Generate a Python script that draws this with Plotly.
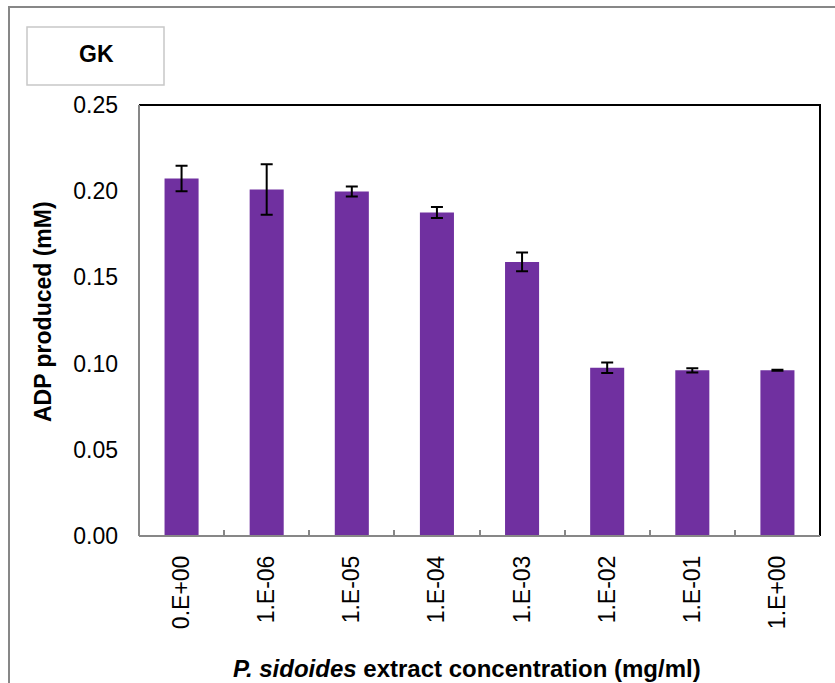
import plotly.graph_objects as go

# Glucokinase (GK) activity: ADP produced at each extract concentration
concentrations = ["0.E+00", "1.E-06", "1.E-05", "1.E-04", "1.E-03", "1.E-02", "1.E-01", "1.E+00"]
adp_mM = [0.2074, 0.2010, 0.1998, 0.1877, 0.1590, 0.0976, 0.0961, 0.0962]
adp_err = [0.0074, 0.0147, 0.0029, 0.0032, 0.0054, 0.0030, 0.0012, 0.0003]
y_ticks = [0.00, 0.05, 0.10, 0.15, 0.20, 0.25]

W, H = 835, 683
L, R, T, B = 139, 820, 105, 536  # plot area edges in pixels


def px_x(p):
    return (p - L) / (R - L)


def px_y(p):
    return (B - p) / (B - T)


FONT = "Liberation Sans, Arial, sans-serif"
GRAY = "#878787"

fig = go.Figure(
    go.Bar(
        x=concentrations,
        y=adp_mM,
        marker=dict(color="#7030A0", line=dict(width=0)),
        error_y=dict(type="data", array=adp_err, visible=True,
                     color="black", thickness=2, width=6),
    )
)

shapes = [
    # outer chart frame
    dict(type="rect", xref="paper", yref="paper",
         x0=px_x(9), x1=px_x(900), y0=px_y(760), y1=px_y(7),
         line=dict(color=GRAY, width=2), layer="below"),
    # label box in the top-left corner
    dict(type="rect", xref="paper", yref="paper",
         x0=px_x(27), x1=px_x(164), y0=px_y(85), y1=px_y(27),
         line=dict(color="#c8c8c8", width=1.5), layer="below"),
    # plot area border: top and right black, left and bottom gray
    dict(type="line", xref="paper", yref="paper",
         x0=px_x(L), x1=px_x(R + 1), y0=1, y1=1,
         line=dict(color="black", width=2)),
    dict(type="line", xref="paper", yref="paper",
         x0=1, x1=1, y0=0, y1=1,
         line=dict(color="black", width=2)),
    dict(type="line", xref="paper", yref="paper",
         x0=0, x1=0, y0=0, y1=1,
         line=dict(color=GRAY, width=2)),
    dict(type="line", xref="paper", yref="paper",
         x0=0, x1=1, y0=0, y1=0,
         line=dict(color=GRAY, width=2)),
]

annotations = [
    dict(text="<b>GK</b>", xref="paper", yref="paper",
         x=px_x(96), y=px_y(54), xanchor="center", yanchor="middle",
         showarrow=False, font=dict(family=FONT, size=23, color="black")),
    dict(text="<b>ADP produced (mM)</b>", xref="paper", yref="paper",
         x=px_x(43), y=px_y(311), xanchor="center", yanchor="middle",
         textangle=-90, showarrow=False,
         font=dict(family=FONT, size=23, color="black")),
    dict(text="<b><i>P. sidoides</i> extract concentration (mg/ml)</b>",
         xref="paper", yref="paper",
         x=px_x(467), y=px_y(668), xanchor="center", yanchor="middle",
         showarrow=False, font=dict(family=FONT, size=24, color="black")),
]

fig.update_layout(
    width=W, height=H,
    margin=dict(l=L, r=W - R, t=T, b=H - B, pad=0),
    paper_bgcolor="white", plot_bgcolor="white",
    showlegend=False,
    bargap=0.6,
    font=dict(family=FONT, size=23, color="black"),
    shapes=shapes,
    annotations=annotations,
    xaxis=dict(
        type="category",
        tickangle=-90,
        ticks="inside", tickson="boundaries", ticklen=6, tickwidth=1.5,
        tickcolor=GRAY,
        showline=False, showgrid=False, zeroline=False,
        ticklabelstandoff=14,
        tickfont=dict(family=FONT, size=23, color="black"),
    ),
    yaxis=dict(
        range=[0, 0.25],
        tickvals=y_ticks,
        ticktext=[f"{v:.2f}" for v in y_ticks],
        ticks="", showline=False, showgrid=False, zeroline=False,
        ticklabelstandoff=20,
        tickfont=dict(family=FONT, size=23, color="black"),
    ),
)

fig.write_html("out.html")
